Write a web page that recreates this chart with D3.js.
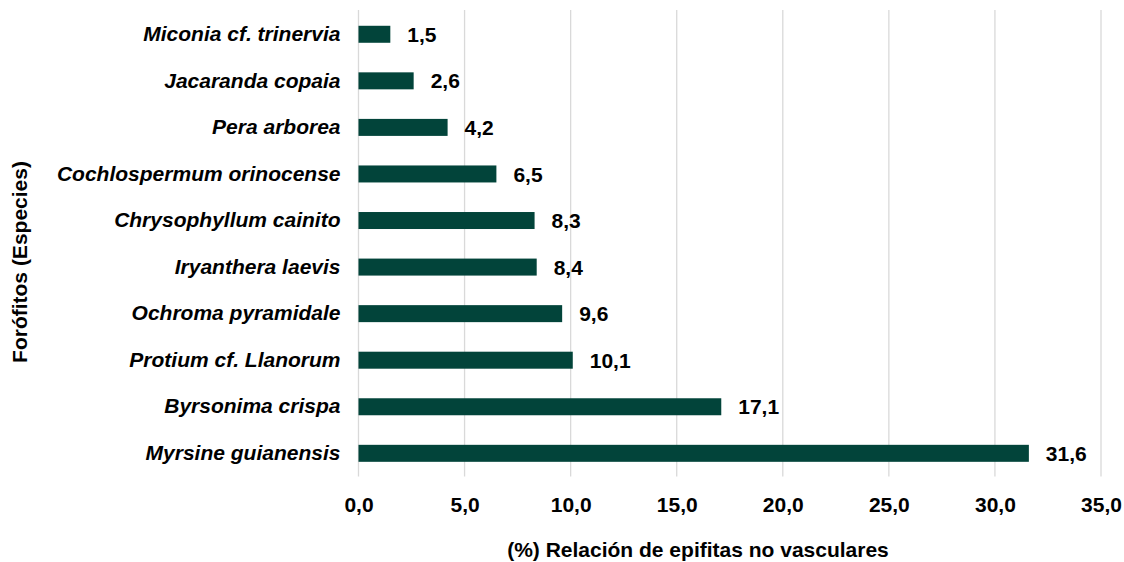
<!DOCTYPE html>
<html>
<head>
<meta charset="utf-8">
<script src="https://cdn.jsdelivr.net/npm/d3@7"></script>
<style>
  body { margin: 0; background: #fff; }
  svg text { font-family: "Liberation Sans", Arial, sans-serif; font-weight: bold; fill: #000; }
</style>
</head>
<body>
<svg id="chart" width="1124" height="562"></svg>
<script>
var species = [
  "Miconia cf. trinervia",
  "Jacaranda copaia",
  "Pera arborea",
  "Cochlospermum orinocense",
  "Chrysophyllum cainito",
  "Iryanthera laevis",
  "Ochroma pyramidale",
  "Protium cf. Llanorum",
  "Byrsonima crispa",
  "Myrsine guianensis"
];
var values = [1.5, 2.6, 4.2, 6.5, 8.3, 8.4, 9.6, 10.1, 17.1, 31.6];
var xTicks = [0, 5, 10, 15, 20, 25, 30, 35];

(function() {
    var svg = d3.select("#chart");
    var plotLeft = 358.5, plotRight = 1101, plotTop = 11, plotBottom = 476.6;
    var FONT = 21;

    var fmt = function(v) { return v.toFixed(1).replace(".", ","); };

    var x = d3.scaleLinear().domain([0, 35]).range([plotLeft, plotRight]);
    var y = d3.scaleBand().domain(species).range([plotTop, plotBottom]).paddingInner(0.635).paddingOuter(0.3175);

    // gridlines
    svg.append("g")
        .selectAll("line")
        .data(xTicks)
        .enter()
        .append("line")
        .attr("x1", function(d) { return x(d); })
        .attr("x2", function(d) { return x(d); })
        .attr("y1", 10)
        .attr("y2", plotBottom)
        .attr("stroke", "#d9d9d9")
        .attr("stroke-width", 1.3);

    // bars
    svg.append("g")
        .selectAll("rect")
        .data(values)
        .enter()
        .append("rect")
        .attr("x", x(0))
        .attr("y", function(d, i) { return y(species[i]); })
        .attr("width", function(d) { return x(d) - x(0); })
        .attr("height", y.bandwidth())
        .attr("fill", "#02443a");

    // value labels
    svg.append("g")
        .selectAll("text")
        .data(values)
        .enter()
        .append("text")
        .attr("x", function(d) { return x(d) + 17; })
        .attr("y", function(d, i) { return y(species[i]) + y.bandwidth() / 2; })
        .attr("dy", "0.36em")
        .style("font-size", FONT + "px")
        .text(fmt);

    // category labels
    var yAxis = svg.append("g")
        .attr("transform", "translate(" + plotLeft + ",0)")
        .call(d3.axisLeft(y).tickSize(0).tickPadding(18));
    yAxis.select(".domain").remove();
    yAxis.selectAll("text")
        .style("font-size", FONT + "px")
        .style("font-style", "italic")
        .style("font-family", "'Liberation Sans', Arial, sans-serif")
        .style("font-weight", "bold")
        .attr("fill", "#000");

    // x axis
    var xAxis = svg.append("g")
        .attr("transform", "translate(0," + plotBottom + ")")
        .call(d3.axisBottom(x).tickValues(xTicks).tickSize(0).tickPadding(20).tickFormat(fmt));
    xAxis.select(".domain").remove();
    xAxis.selectAll("text")
        .style("font-size", FONT + "px")
        .style("font-family", "'Liberation Sans', Arial, sans-serif")
        .style("font-weight", "bold")
        .attr("fill", "#000");

    // axis titles
    svg.append("text")
        .attr("x", 698)
        .attr("y", 557)
        .attr("text-anchor", "middle")
        .style("font-size", FONT + "px")
        .text("(%) Relación de epifitas no vasculares");

    svg.append("text")
        .attr("transform", "translate(27,262) rotate(-90)")
        .attr("text-anchor", "middle")
        .style("font-size", FONT + "px")
        .text("Forófitos (Especies)");
})();
</script>
</body>
</html>
